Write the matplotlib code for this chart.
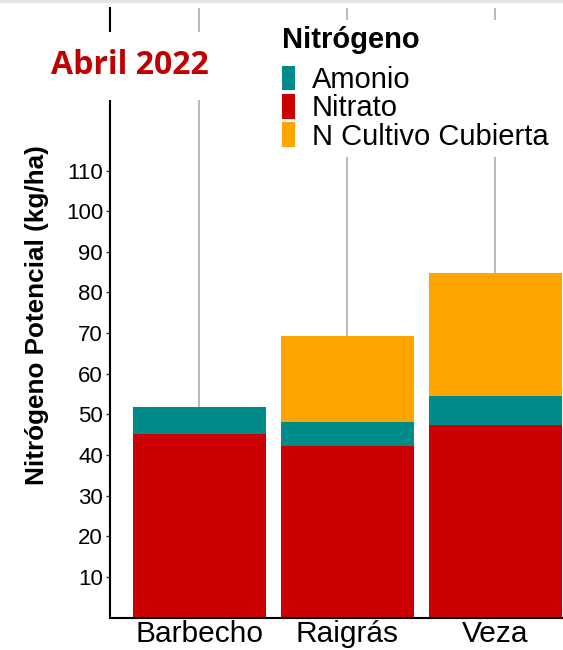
import numpy as np
import matplotlib.pyplot as plt
from matplotlib.patches import Patch, Rectangle

plt.rcParams['font.family'] = ['Liberation Sans', 'DejaVu Sans']

categorias = ['Barbecho', 'Raigrás', 'Veza']
nitrato = [45.1, 42.1, 47.4]
amonio = [6.6, 6.0, 7.0]
cultivo = [0.0, 21.2, 30.4]
series = ['Amonio', 'Nitrato', 'N Cultivo Cubierta']
colores = ['#008b8b', '#cc0000', '#ffa500']
yticks = [10, 20, 30, 40, 50, 60, 70, 80, 90, 100, 110]

fig = plt.figure(figsize=(5.63, 6.5), dpi=100)
ax = fig.add_axes([110 / 563, 32.5 / 650, 453 / 563, 609.5 / 650])

x = np.arange(len(categorias))
nitrato = np.array(nitrato)
amonio = np.array(amonio)
cultivo = np.array(cultivo)
ax.bar(x, nitrato, width=0.9, color=colores[1], zorder=2)
ax.bar(x, amonio, width=0.9, bottom=nitrato, color=colores[0], zorder=2)
ax.bar(x, cultivo, width=0.9, bottom=nitrato + amonio, color=colores[2], zorder=2)

ax.set_xlim(-0.603, 2.459)
ax.set_ylim(0, 150)
ax.set_xticks(x)
ax.set_xticklabels(categorias, fontsize=21.5)
ax.set_yticks(yticks)
ax.tick_params(axis='y', labelsize=16, length=3, width=1, color='#333333', pad=2)
ax.tick_params(axis='x', length=0, pad=1.5)
ax.grid(axis='x', color='#b4b4b4', linewidth=1.3, zorder=0)
ax.set_axisbelow(True)
for s in ['top', 'right']:
    ax.spines[s].set_visible(False)
ax.spines['left'].set_linewidth(1.5)
ax.spines['bottom'].set_linewidth(1.5)

fig.text(37 / 563, 1 - 315 / 650, 'Nitrógeno Potencial (kg/ha)', rotation=90,
         fontsize=18.8, fontweight='bold', ha='center', va='center')

fig.text(130 / 563, 1 - 66 / 650, 'Abril 2022', color='#c00000', fontsize=23,
         fontweight='bold', family=['Open Sans', 'DejaVu Sans'], ha='center', va='center',
         bbox=dict(facecolor='white', edgecolor='none', boxstyle='square,pad=0.55'), zorder=5)

handles = [Patch(facecolor=c, edgecolor='none') for c in colores]
leg = ax.legend(handles, series, title='Nitrógeno', loc='upper left',
                bbox_to_anchor=(276 / 563, 1 - 20 / 650), bbox_transform=fig.transFigure,
                fontsize=21, title_fontproperties={'weight': 'bold', 'size': 21},
                handlelength=0.45, handleheight=0.93, handletextpad=0.57,
                labelspacing=0, frameon=True, fancybox=False, borderaxespad=0,
                borderpad=0.2, alignment='left')
leg.get_frame().set_edgecolor('none')
leg.get_frame().set_facecolor('white')
leg.get_frame().set_alpha(1)
leg._legend_box.sep = 8.5

fig.patches.append(Rectangle((0, 1 - 3 / 650), 1, 3 / 650, transform=fig.transFigure,
                             facecolor='#e4e4e4', edgecolor='none'))

fig.savefig('out.png', dpi=100)
